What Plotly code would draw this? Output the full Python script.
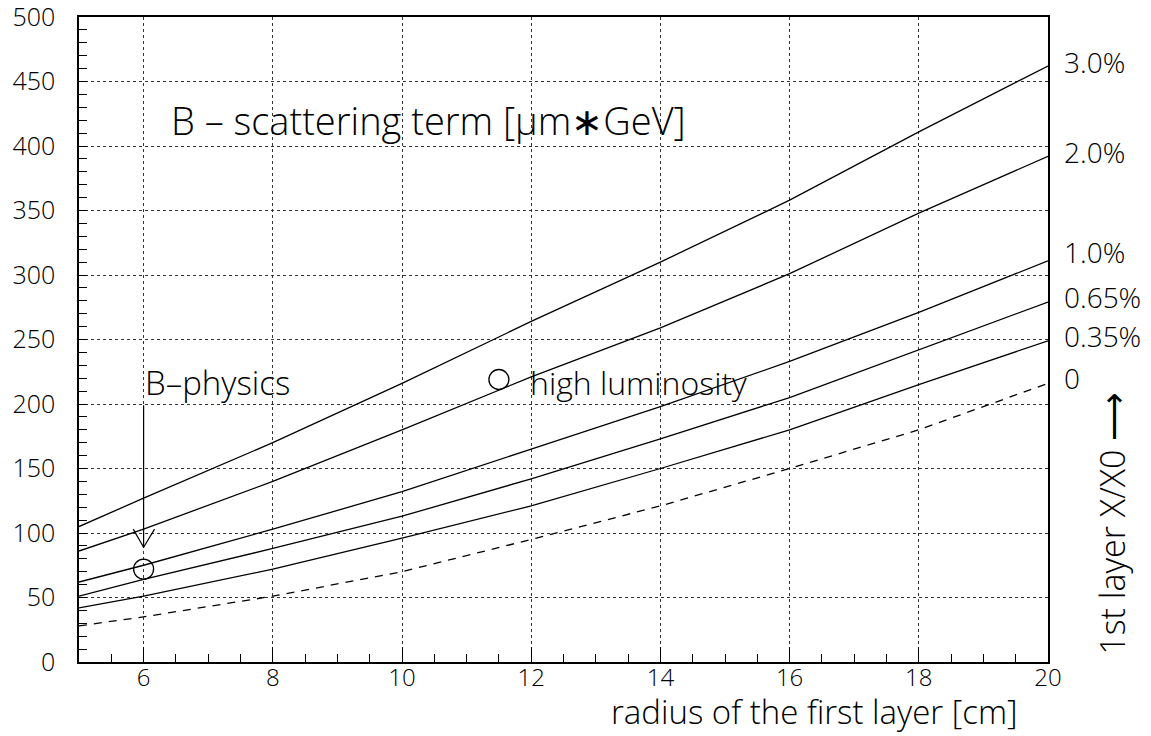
import plotly.graph_objects as go

radius = [5, 6, 8, 10, 12, 14, 16, 18, 20]
series_labels = ["3.0%", "2.0%", "1.0%", "0.65%", "0.35%", "0"]
b_30 = [105, 127, 170, 216, 264, 310, 358, 411, 462]
b_20 = [86, 103, 140, 180, 221, 259, 301, 348, 392]
b_10 = [62, 75, 103, 132, 165, 198, 233, 271, 311]
b_065 = [51, 64, 88, 113, 142, 173, 205, 242, 279]
b_035 = [42, 51, 72, 96, 121, 150, 180, 215, 249]
b_0 = [28, 35, 51, 70, 95, 121, 150, 180, 216]
series = [b_30, b_20, b_10, b_065, b_035, b_0]
label_y = [465, 395, 318, 283, 253, 220]

bphys_x, bphys_y = [6], [72]
hilum_x, hilum_y = [11.5], [219]

FONT = "Open Sans"
W = 300
fig = go.Figure()
for vals, lab in zip(series, series_labels):
    fig.add_trace(go.Scatter(
        x=radius, y=vals, mode="lines", name=lab,
        line=dict(color="black", width=1.3, dash="8px,7px" if lab == "0" else "solid"),
        showlegend=False, hoverinfo="skip"))

fig.add_trace(go.Scatter(x=bphys_x, y=bphys_y, mode="markers",
                         marker=dict(symbol="circle-open", size=20, color="black", line=dict(width=1.3)),
                         showlegend=False))
fig.add_trace(go.Scatter(x=hilum_x, y=hilum_y, mode="markers",
                         marker=dict(symbol="circle-open", size=20, color="black", line=dict(width=1.3)),
                         showlegend=False))

# arrow B-physics
fig.add_shape(type="line", x0=6, x1=6, y0=199, y1=89, line=dict(color="black", width=1.2))
fig.add_shape(type="line", x0=5.84, x1=6, y0=103, y1=89, line=dict(color="black", width=1.2))
fig.add_shape(type="line", x0=6.17, x1=6, y0=103, y1=89, line=dict(color="black", width=1.2))

ann = []
ann.append(dict(x=6.40, y=420, xref="x", yref="y", text="B – scattering term [μm∗GeV]",
                showarrow=False, xanchor="left", yanchor="middle",
                font=dict(family=FONT, size=38, color="black", weight=W)))
ann.append(dict(x=5.99, y=217, xref="x", yref="y", text="B–physics",
                showarrow=False, xanchor="left", yanchor="middle",
                font=dict(family=FONT, size=33, color="black", weight=W)))
ann.append(dict(x=11.95, y=217, xref="x", yref="y", text="high luminosity",
                showarrow=False, xanchor="left", yanchor="middle",
                font=dict(family=FONT, size=32, color="black", weight=W)))
for lab, yy in zip(series_labels, label_y):
    ann.append(dict(x=1.014, y=yy, xref="paper", yref="y", text=lab, showarrow=False,
                    xanchor="left", yanchor="middle",
                    font=dict(family=FONT, size=28, color="black", weight=W)))
ann.append(dict(x=1.066, y=0.216, xref="paper", yref="paper", text="1st layer X/X0 ⟶",
                textangle=-90, showarrow=False, xanchor="center", yanchor="middle",
                font=dict(family=FONT, size=34, color="black", weight=W)))
ann.append(dict(x=0.971, y=-0.1145, xref="paper", yref="paper", text="radius of the first layer [cm]",
                showarrow=False, xanchor="right", yanchor="bottom",
                font=dict(family=FONT, size=33, color="black", weight=W)))

fig.update_layout(
    width=1151, height=736,
    margin=dict(l=79, r=103, t=17, b=74),
    paper_bgcolor="white", plot_bgcolor="white",
    annotations=ann,
    font=dict(family=FONT, size=25, color="black", weight=W),
)
fig.update_xaxes(range=[5, 20], tickvals=[6, 8, 10, 12, 14, 16, 18, 20], automargin=False,
                 ticks="inside", ticklen=15, tickwidth=1.2, tickcolor="black",
                 minor=dict(ticks="inside", dtick=0.5, tick0=5, ticklen=8, tickwidth=1.2, tickcolor="black", showgrid=False),
                 showline=True, linecolor="black", linewidth=1.6, mirror=True,
                 showgrid=True, gridcolor="#333", griddash="dot", gridwidth=1,
                 zeroline=False, tickfont=dict(family=FONT, size=24, weight=W), ticklabelstandoff=-7,
                 ticklabeloverflow="allow")
fig.update_yaxes(range=[0, 500], dtick=50, tick0=0, automargin=False,
                 ticks="inside", ticklen=8, tickwidth=1.2, tickcolor="black",
                 minor=dict(ticks="inside", dtick=10, ticklen=8, tickwidth=1.2, tickcolor="black", showgrid=False),
                 showline=True, linecolor="black", linewidth=1.6, mirror=True,
                 showgrid=True, gridcolor="#333", griddash="dot", gridwidth=1,
                 zeroline=False, tickfont=dict(family=FONT, size=25, weight=W), ticklabelstandoff=17,
                 ticklabeloverflow="allow")

fig.write_html("out.html")
